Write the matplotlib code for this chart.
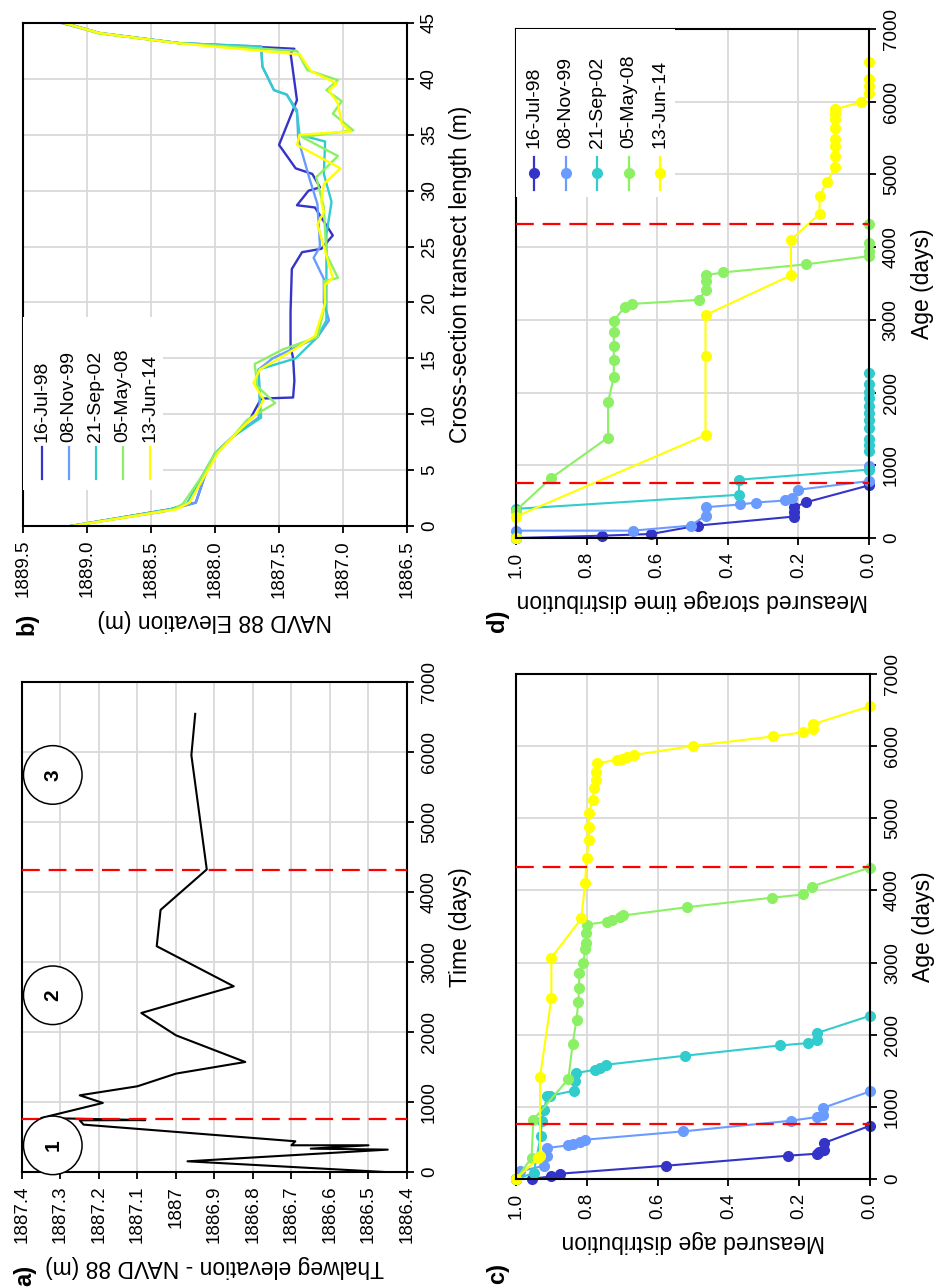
import matplotlib
matplotlib.use('Agg')
from matplotlib import pyplot as plt
from matplotlib.patches import Rectangle

plt.rcParams['font.family'] = ['Liberation Sans', 'DejaVu Sans']

# survey dates and their colours
dates = ['16-Jul-98', '08-Nov-99', '21-Sep-02', '05-May-08', '13-Jun-14']
colours = ['#3434c8', '#6a9cff', '#33cccc', '#8cf064', '#ffff00']
change_days = [760, 4320]

# a) thalweg elevation against time
time_a = [0, 152, 319, 333, 381, 381, 438, 676, 738, 741, 771, 986, 1095, 1224,
          1405, 1571, 1952, 2271, 2652, 3225, 3744, 4322, 5955, 6545]
elev_a = [1886.46, 1886.97, 1886.45, 1886.65, 1886.50, 1886.70, 1886.69, 1887.24,
          1887.25, 1887.08, 1887.35, 1887.19, 1887.25, 1887.10, 1887.00, 1886.82,
          1887.00, 1887.09, 1886.85, 1887.05, 1887.04, 1886.92, 1886.96, 1886.95]
phase_names = ['1', '2', '3']
phase_days = [380, 2524, 5672]

# b) cross-sections, one list per survey
len_b = [
    [0, 1.5, 2.1, 4.5, 6.5, 8.0, 9.5, 11.4, 11.5, 13.0, 15.0, 16.1, 19.2, 23.0, 24.5,
     24.8, 26.0, 28.5, 28.7, 30.0, 30.3, 31.5, 32.0, 34.1, 38.1, 42.3, 42.7, 43.2, 44.1, 45.0],
    [0, 1.3, 2.1, 4.5, 6.5, 8.0, 9.7, 11.3, 14.0, 15.0, 16.9, 18.4, 20.0, 22.1, 24.0,
     25.0, 28.8, 31.0, 34.6, 37.2, 38.6, 39.0, 41.1, 42.9, 43.2, 44.1, 45.0],
    [0, 1.5, 2.0, 4.5, 6.5, 8.0, 9.7, 11.3, 14.0, 15.0, 16.9, 18.4, 22.0, 26.1, 29.0,
     31.5, 34.4, 35.0, 37.0, 38.6, 39.0, 41.1, 42.9, 43.2, 44.1, 45.0],
    [0, 1.5, 2.0, 4.5, 6.5, 8.0, 9.5, 11.0, 12.5, 14.5, 15.8, 16.9, 19.9, 21.9, 22.2,
     24.3, 28.5, 31.2, 33.1, 34.8, 35.4, 36.9, 38.0, 39.0, 39.9, 40.8, 42.5, 43.2, 44.1, 45.0],
    [0, 1.5, 2.1, 4.5, 6.5, 8.0, 10.0, 11.3, 12.8, 14.0, 15.8, 17.0, 19.9, 21.6, 22.2,
     27.0, 28.1, 29.0, 30.6, 32.0, 34.1, 35.0, 35.3, 36.0, 37.8, 39.0, 39.6, 40.7, 42.2,
     43.2, 44.1, 45.0],
]
elev_b = [
    [1889.13, 1888.35, 1888.15, 1888.08, 1888.0, 1887.86, 1887.73, 1887.64, 1887.39,
     1887.38, 1887.39, 1887.41, 1887.41, 1887.40, 1887.32, 1887.17, 1887.08, 1887.22,
     1887.36, 1887.27, 1887.18, 1887.24, 1887.37, 1887.50, 1887.36, 1887.41, 1887.38,
     1888.28, 1888.90, 1889.17],
    [1889.13, 1888.40, 1888.15, 1888.08, 1888.0, 1887.86, 1887.66, 1887.65, 1887.66,
     1887.55, 1887.20, 1887.11, 1887.15, 1887.15, 1887.23, 1887.18, 1887.20, 1887.26,
     1887.35, 1887.36, 1887.44, 1887.54, 1887.63, 1887.64, 1888.28, 1888.90, 1889.20],
    [1889.12, 1888.35, 1888.22, 1888.10, 1888.0, 1887.86, 1887.64, 1887.65, 1887.66,
     1887.37, 1887.20, 1887.13, 1887.13, 1887.13, 1887.09, 1887.15, 1887.14, 1887.34,
     1887.36, 1887.44, 1887.54, 1887.63, 1887.64, 1888.28, 1888.90, 1889.18],
    [1889.12, 1888.32, 1888.25, 1888.10, 1888.0, 1887.86, 1887.75, 1887.53, 1887.67,
     1887.69, 1887.47, 1887.20, 1887.14, 1887.15, 1887.04, 1887.13, 1887.15, 1887.21,
     1887.04, 1887.32, 1886.92, 1887.08, 1887.01, 1887.13, 1887.04, 1887.28, 1887.36,
     1888.28, 1888.92, 1889.17],
    [1889.12, 1888.30, 1888.20, 1888.08, 1887.98, 1887.86, 1887.68, 1887.62, 1887.70,
     1887.65, 1887.38, 1887.22, 1887.14, 1887.14, 1887.08, 1887.20, 1887.15, 1887.17,
     1887.15, 1887.02, 1887.36, 1887.34, 1886.94, 1887.01, 1887.04, 1887.11, 1887.05,
     1887.25, 1887.34, 1888.30, 1888.90, 1889.18],
]

# c) measured age distribution
age_c = [
    [0, 3, 37, 74, 185, 323, 351, 370, 406, 499, 739],
    [0, 106, 185, 314, 430, 467, 485, 508, 545, 661, 808, 859, 891, 984, 1215],
    [0, 83, 600, 799, 961, 1146, 1155, 1224, 1353, 1469, 1515, 1538, 1584, 1709, 1852,
     1885, 1931, 2023, 2263],
    [0, 291, 822, 1386, 1875, 2208, 2448, 2647, 2850, 2993, 3194, 3268, 3411, 3526, 3567,
     3584, 3630, 3653, 3767, 3899, 3945, 4054, 4318],
    [0, 291, 323, 1413, 2508, 3068, 3612, 4100, 4455, 4702, 4885, 5075, 5247, 5419, 5533,
     5637, 5763, 5808, 5820, 5843, 5877, 6003, 6135, 6193, 6233, 6307, 6554],
]
frac_c = [
    [1.0, 0.956, 0.90, 0.876, 0.575, 0.233, 0.15, 0.145, 0.13, 0.13, 0.0],
    [1.0, 0.99, 0.92, 0.913, 0.913, 0.852, 0.838, 0.82, 0.805, 0.527, 0.224, 0.15, 0.134,
     0.134, 0.0],
    [1.0, 0.95, 0.93, 0.927, 0.92, 0.913, 0.904, 0.836, 0.833, 0.83, 0.777, 0.763, 0.746,
     0.523, 0.254, 0.174, 0.15, 0.15, 0.0],
    [1.0, 0.956, 0.951, 0.852, 0.84, 0.829, 0.824, 0.822, 0.821, 0.81, 0.804, 0.802, 0.802,
     0.80, 0.744, 0.73, 0.706, 0.697, 0.518, 0.278, 0.188, 0.165, 0.0],
    [1.0, 0.937, 0.932, 0.932, 0.90, 0.90, 0.815, 0.805, 0.80, 0.794, 0.794, 0.794, 0.783,
     0.78, 0.774, 0.774, 0.772, 0.716, 0.70, 0.687, 0.668, 0.50, 0.273, 0.188, 0.16, 0.16,
     0.0],
]

# d) measured storage time distribution
age_d = [
    [0, 32, 55, 171, 295, 355, 424, 493, 724],
    [0, 101, 101, 171, 309, 424, 461, 488, 516, 548, 664, 783, 991],
    [0, 401, 594, 802, 940, 1197, 1281, 1365, 1506, 1618, 1719, 1815, 1927, 2011, 2124, 2264],
    [0, 378, 825, 1382, 1871, 2208, 2449, 2640, 2826, 2983, 3180, 3219, 3275, 3404, 3539,
     3612, 3652, 3764, 3876, 3949, 4062, 4315],
    [0, 295, 1415, 2506, 3067, 3612, 4101, 4457, 4708, 4890, 5096, 5256, 5393, 5484, 5644,
     5758, 5826, 5895, 5995, 6123, 6215, 6306, 6543],
]
frac_d = [
    [1.0, 0.755, 0.617, 0.485, 0.212, 0.212, 0.212, 0.177, 0.0],
    [1.0, 1.0, 0.669, 0.504, 0.463, 0.461, 0.365, 0.32, 0.237, 0.218, 0.20, 0.0, 0.0],
    [1.0, 1.0, 0.369, 0.367, 0.0, 0, 0, 0, 0, 0, 0, 0, 0, 0, 0, 0],
    [1.0, 1.0, 0.90, 0.739, 0.739, 0.723, 0.723, 0.723, 0.723, 0.723, 0.692, 0.671, 0.482,
     0.463, 0.463, 0.463, 0.414, 0.177, 0.0, 0.0, 0.0, 0.0],
    [1.0, 1.0, 0.463, 0.463, 0.463, 0.221, 0.221, 0.14, 0.14, 0.119, 0.097, 0.097, 0.097,
     0.097, 0.097, 0.097, 0.097, 0.097, 0.022, 0.0, 0.0, 0.0, 0.0],
]

TICK_FS = 13.5
LABEL_FS = 16.5

fig = plt.figure(figsize=(9.39, 12.88), dpi=100, facecolor='white')


def rotated_axes(rect, hlim, hticks, hfmt, vlim, vticks, hlabel, vlabel):
    # the page is turned a quarter: the value axis runs along the bottom (reversed)
    # and the time / length axis runs up the right side
    ax = fig.add_axes(rect)
    ax.set_xlim(*hlim)
    ax.set_ylim(*vlim)
    ax.set_xticks(hticks)
    ax.set_xticklabels([hfmt(v) for v in hticks], rotation=90, fontsize=TICK_FS)
    ax.set_yticks(vticks)
    ax.set_yticklabels([str(v) for v in vticks], rotation=90, va='center', fontsize=TICK_FS)
    ax.yaxis.tick_right()
    ax.yaxis.set_label_position('right')
    ax.set_xlabel(hlabel, rotation=180, fontsize=LABEL_FS, labelpad=8)
    ax.set_ylabel(vlabel, rotation=90, fontsize=LABEL_FS, labelpad=8)
    ax.grid(True, color='#d9d9d9', lw=1.3)
    ax.set_axisbelow(True)
    ax.tick_params(direction='out', length=5, width=1.3, pad=5, colors='black')
    for s in ax.spines.values():
        s.set_linewidth(1.5)
    return ax


def rotated_legend(ax, x0, dx, y0, y1, ytext, box, marker=None):
    ax.add_patch(Rectangle((box[0], box[1]), box[2], box[3], transform=ax.transAxes,
                           facecolor='white', edgecolor='none', zorder=3))
    for i, (lab, col) in enumerate(zip(dates, colours)):
        x = x0 + i * dx
        ax.plot([x, x], [y0, y1], color=col, lw=1.6, transform=ax.transAxes,
                zorder=4, clip_on=False)
        if marker:
            ax.plot([x], [(y0 + y1) / 2], marker=marker, ms=7, color=col,
                    transform=ax.transAxes, zorder=4, clip_on=False)
        ax.text(x, ytext, lab, rotation=90, ha='center', va='bottom',
                fontsize=14, transform=ax.transAxes, zorder=5)


def fmt_g(v):
    return '{:g}'.format(round(v, 1))


def fmt_1(v):
    return '{:.1f}'.format(v)


days_ticks = list(range(0, 7001, 1000))

# a)
ax_a = rotated_axes([0.0234, 0.0901, 0.410, 0.3804], (1887.4, 1886.4),
                    [1887.4 - 0.1 * i for i in range(11)], fmt_g, (0, 7000), days_ticks,
                    'Thalweg elevation - NAVD 88 (m)', 'Time (days)')
ax_a.plot(elev_a, time_a, color='black', lw=1.5, zorder=3)
for d in change_days:
    ax_a.axhline(d, color='#ff0000', lw=1.6, dashes=(8, 4), zorder=4)
for name, d in zip(phase_names, phase_days):
    ax_a.text(1887.32, d, name, rotation=90, ha='center', va='center', fontsize=15,
              fontweight='bold', zorder=5,
              bbox=dict(boxstyle='circle,pad=0.95', fc='white', ec='black', lw=1.1))

# b)
ax_b = rotated_axes([0.0245, 0.5916, 0.409, 0.3905], (1889.5, 1886.5),
                    [1889.5 - 0.5 * i for i in range(7)], fmt_1, (0, 45),
                    list(range(0, 46, 5)), 'NAVD 88 Elevation (m)',
                    'Cross-section transect length (m)')
for L, E, col in zip(len_b, elev_b, colours):
    ax_b.plot(E, L, color=col, lw=1.7, zorder=2)
rotated_legend(ax_b, 0.049, 0.0703, 0.093, 0.157, 0.167, (0, 0.072, 0.365, 0.344))

# c)
ax_c = rotated_axes([0.5495, 0.0846, 0.377, 0.3921], (1.0, 0.0),
                    [1.0 - 0.2 * i for i in range(6)], fmt_1, (0, 7000), days_ticks,
                    'Measured age distribution', 'Age (days)')
for A, F, col in zip(age_c, frac_c, colours):
    ax_c.plot(F, A, color=col, lw=1.5, marker='o', ms=7, zorder=2, clip_on=False)
for d in change_days:
    ax_c.axhline(d, color='#ff0000', lw=1.6, dashes=(8, 4), zorder=4)

# d)
ax_d = rotated_axes([0.5495, 0.5823, 0.3759, 0.3952], (1.0, 0.0),
                    [1.0 - 0.2 * i for i in range(6)], fmt_1, (0, 7000), days_ticks,
                    'Measured storage time distribution', 'Age (days)')
for A, F, col in zip(age_d, frac_d, colours):
    ax_d.plot(F, A, color=col, lw=1.5, marker='o', ms=7, zorder=2, clip_on=False)
for d in change_days:
    ax_d.axhline(d, color='#ff0000', lw=1.6, dashes=(8, 4), zorder=4)
rotated_legend(ax_d, 0.051, 0.0895, 0.684, 0.749, 0.766, (0, 0.67, 0.45, 0.33), marker='o')

# panel letters
for lab, x, y in [('a)', 25, 1275), ('b)', 27, 624), ('c)', 498, 1274), ('d)', 498, 621)]:
    fig.text(x / 939, 1 - y / 1288, lab, rotation=90, ha='center', va='center',
             fontsize=17, fontweight='bold')

fig.savefig('out.png', dpi=100, facecolor='white')
